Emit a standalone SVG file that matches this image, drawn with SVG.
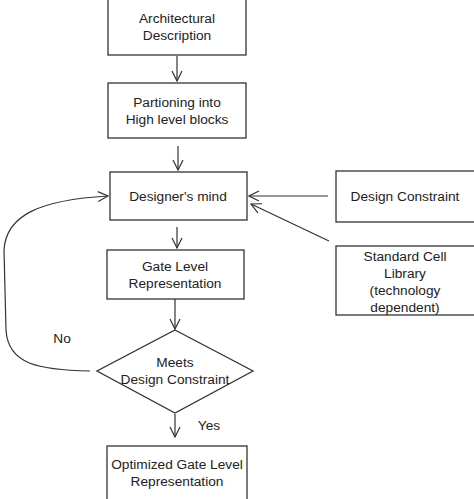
<svg xmlns="http://www.w3.org/2000/svg" width="474" height="499" viewBox="0 0 474 499">
<defs>
<marker id="ah" viewBox="0 0 12 12" refX="11" refY="6" markerWidth="12" markerHeight="12" markerUnits="userSpaceOnUse" orient="auto">
<path d="M1,1 L11,6 L1,11" fill="none" stroke="#333" stroke-width="1.2"/>
</marker>
<style>
.box{fill:#fff;stroke:#333;stroke-width:1.3}
.t{font-family:"Liberation Sans",Arial,sans-serif;font-size:13.7px;fill:#222;text-anchor:middle}
.c{fill:none;stroke:#333;stroke-width:1.2;marker-end:url(#ah)}
</style>
</defs>
<rect width="474" height="499" fill="#fff"/>
<g id="arch"><rect class="box" x="108" y="-2" width="138" height="57"/><text class="t" x="177" y="23">Architectural</text><text class="t" x="177" y="40">Description</text></g>
<g id="part"><rect class="box" x="108" y="83" width="138" height="55"/><text class="t" x="177" y="107">Partioning into</text><text class="t" x="177" y="124">High level blocks</text></g>
<g id="mind"><rect class="box" x="110" y="172" width="137" height="48"/><text class="t" x="178" y="201">Designer's mind</text></g>
<g id="gate"><rect class="box" x="107" y="250" width="137" height="49"/><text class="t" x="175" y="271">Gate Level</text><text class="t" x="175" y="288">Representation</text></g>
<g id="meets"><polygon class="box" points="175,330 253,371 175,413 97,371"/><text class="t" x="175" y="367">Meets</text><text class="t" x="175" y="384">Design Constraint</text></g>
<g id="opt"><rect class="box" x="107" y="446" width="140" height="58"/><text class="t" x="177" y="469">Optimized Gate Level</text><text class="t" x="177" y="486">Representation</text></g>
<g id="dc"><rect class="box" x="336" y="171" width="142" height="51"/><text class="t" x="405" y="201">Design Constraint</text></g>
<g id="scl"><rect class="box" x="336" y="246" width="142" height="69"/><text class="t" x="405" y="261">Standard Cell</text><text class="t" x="405" y="278">Library</text><text class="t" x="405" y="295">(technology</text><text class="t" x="405" y="312">dependent)</text></g>
<g id="connectors">
<path class="c" d="M177,56 V81"/>
<path class="c" d="M178,146 V170"/>
<path class="c" d="M177,227 V248"/>
<path class="c" d="M175,299 V329"/>
<path class="c" d="M175,414 V437"/>
<path class="c" d="M328,196 H249"/>
<path class="c" d="M329,241 L251,204"/>
<path class="c" d="M90,371 C40,370 8,365 6,330 L4,250 C6,215 40,200 108,196"/>
<text class="t" x="62" y="343">No</text>
<text class="t" x="209" y="430">Yes</text>
</g>
</svg>
